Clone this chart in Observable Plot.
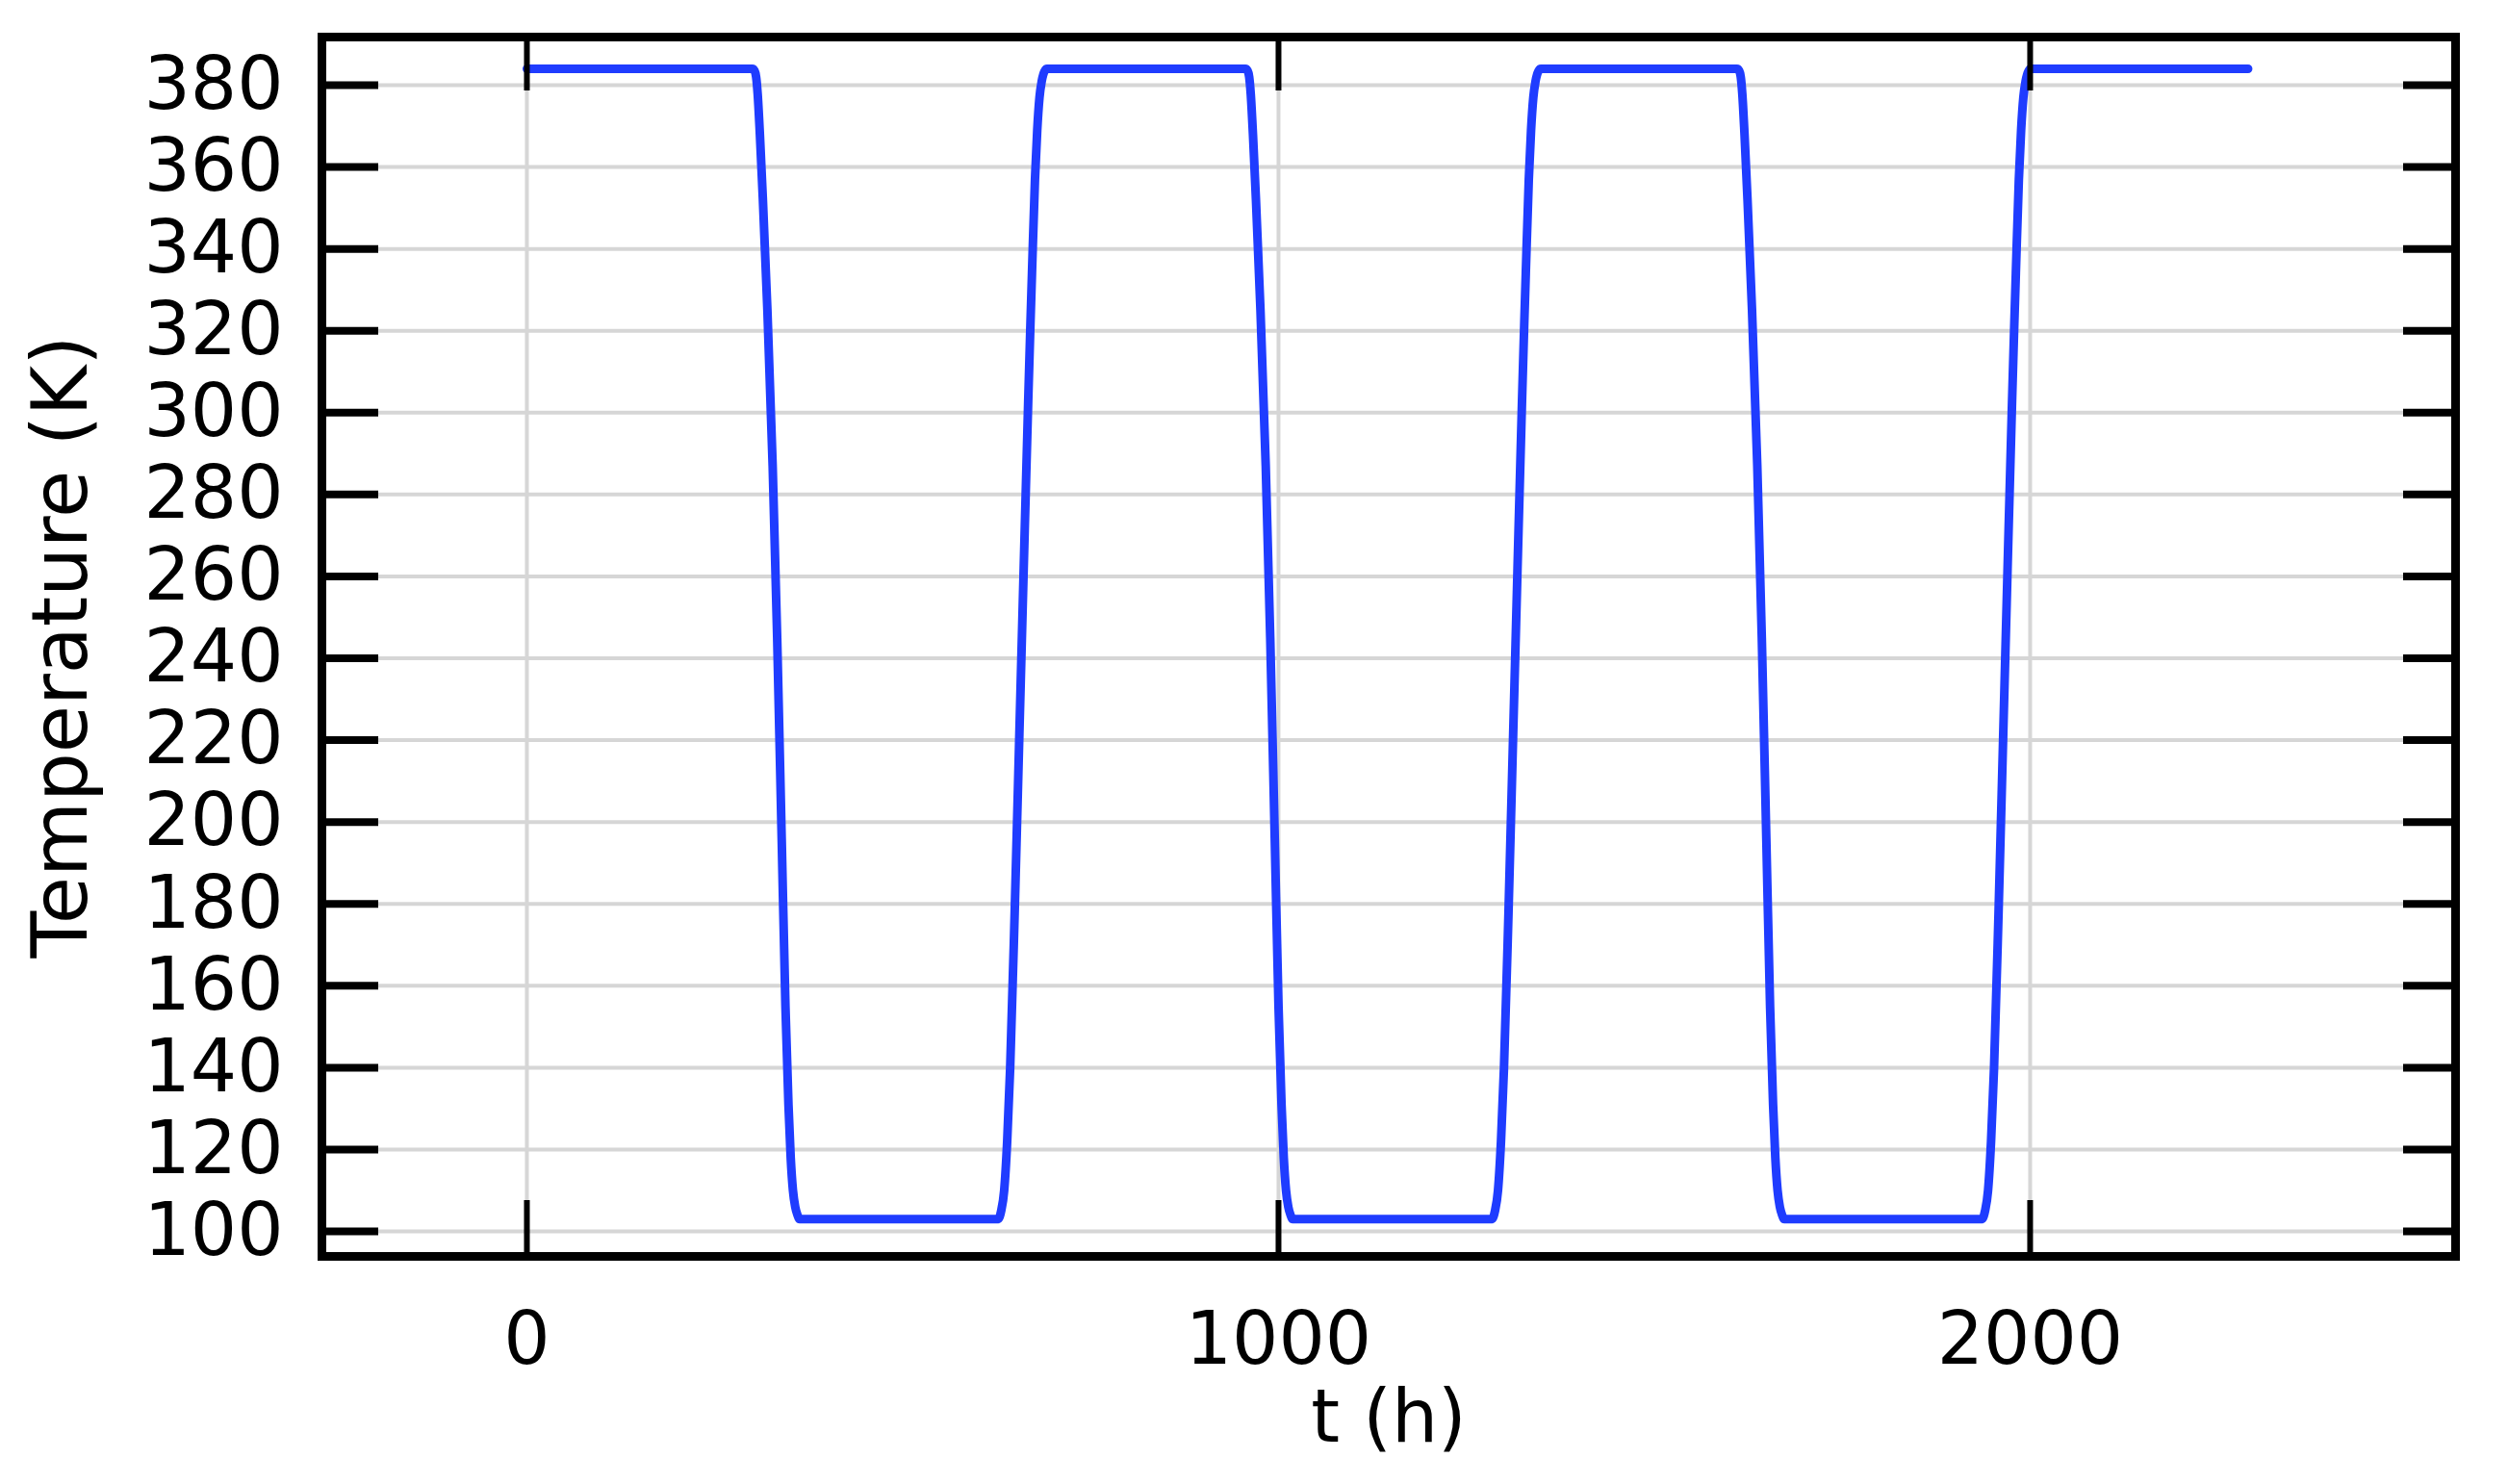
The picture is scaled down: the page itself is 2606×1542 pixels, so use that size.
<!DOCTYPE html>
<html><head><meta charset="utf-8">
<script src="https://cdn.jsdelivr.net/npm/d3@7"></script>
<script src="https://cdn.jsdelivr.net/npm/@observablehq/plot@0.6"></script>
<style>
html,body{margin:0;padding:0;background:#fff;}
</style></head><body><div id="chart"></div>
<script>
const tHours = [0,
  300,303,305,307,310,314,320,327,333,339,344,348,351,354,357,360,363,
  627,631,635,639,643,649,655,661,667,670,672,676,679,682,685,689,692,
  956,959,961,963,966,970,976,983,989,995,1000,1004,1007,1010,1013,1016,1019,
  1284,1288,1292,1296,1300,1306,1312,1318,1324,1327,1329,1333,1336,1339,1342,1346,1349,
  1610,1613,1615,1617,1620,1624,1630,1637,1643,1649,1654,1658,1661,1664,1667,1670,1673,
  1936,1940,1944,1948,1952,1958,1964,1970,1976,1979,1981,1985,1988,1991,1994,1998,2001,
  2290];
const tempK = [384,
  384,383.5,382,378,368,352,325,287,245,196,155,131,118,110,106,104,103,
  103,105,110,122,140,178,220,262,303,322,334,357,369,377,381,383.5,384,
  384,383.5,382,378,368,352,325,287,245,196,155,131,118,110,106,104,103,
  103,105,110,122,140,178,220,262,303,322,334,357,369,377,381,383.5,384,
  384,383.5,382,378,368,352,325,287,245,196,155,131,118,110,106,104,103,
  103,105,110,122,140,178,220,262,303,322,334,357,369,377,381,383.5,384,
  384];
const xTicks = [0, 1000, 2000];
const yTicks = [100,120,140,160,180,200,220,240,260,280,300,320,340,360,380];
const xLabel = "t (h)";
const yLabel = "Temperature (K)";

const data = tHours.map((t, i) => ({t, T: tempK[i]}));
const font = "'DejaVu Sans', sans-serif";

const chart = Plot.plot({
  width: 2606, height: 1542,
  marginLeft: 334, marginRight: 55, marginTop: 38, marginBottom: 237,
  style: {fontFamily: font, background: "#fff", color: "#000"},
  x: {domain: [-272.7, 2566]},
  y: {domain: [93.9, 391.75]},
  marks: [
    Plot.gridX(xTicks, {stroke: "#d6d6d6", strokeOpacity: 1, strokeWidth: 4}),
    Plot.gridY(yTicks, {stroke: "#d6d6d6", strokeOpacity: 1, strokeWidth: 4}),
    Plot.line(data, {x: "t", y: "T", stroke: "#1f3cff", strokeWidth: 9, curve: "monotone-x"}),
    Plot.axisX(xTicks, {anchor: "bottom", tickSize: -58, strokeWidth: 6, fill: "none", label: null}),
    Plot.axisX(xTicks, {anchor: "top", tickSize: -55, strokeWidth: 6, fill: "none", label: null}),
    Plot.axisY(yTicks, {anchor: "left", tickSize: -59, strokeWidth: 8, fill: "none", label: null}),
    Plot.axisY(yTicks, {anchor: "right", tickSize: -55, strokeWidth: 8, fill: "none", label: null}),
    Plot.axisX(xTicks, {anchor: "bottom", tickSize: 0, tickPadding: 58, fontSize: 76, label: null, tickFormat: d => String(d)}),
    Plot.axisY(yTicks, {anchor: "left", tickSize: 0, tickPadding: 40, fontSize: 76, label: null, tickFormat: d => String(d)}),
    Plot.frame({stroke: "#000", strokeWidth: 9}),
    Plot.text([xLabel], {text: d => d, frameAnchor: "bottom", dy: 192, lineAnchor: "bottom", textAnchor: "middle", fontSize: 76}),
    Plot.text([yLabel], {text: d => d, frameAnchor: "left", rotate: -90, dx: -301, lineAnchor: "top", textAnchor: "middle", fontSize: 80})
  ]
});
document.getElementById("chart").appendChild(chart);
</script>
</body></html>
